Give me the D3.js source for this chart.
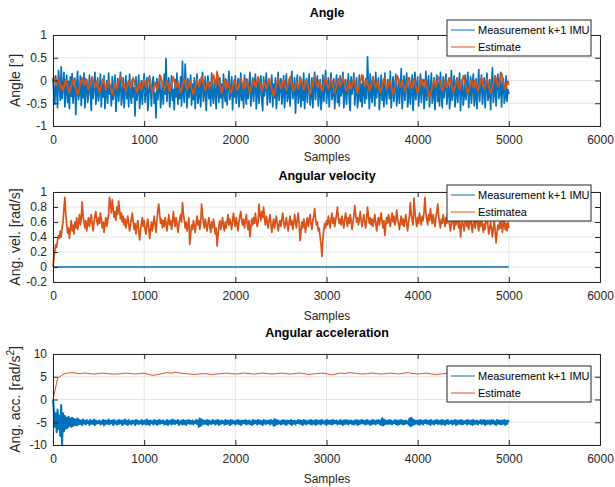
<!DOCTYPE html>
<html>
<head>
<meta charset="utf-8">
<script src="https://cdn.jsdelivr.net/npm/d3@7"></script>
<style>
  body { margin: 0; background: #fff; }
  svg { display: block; font-family: "Liberation Sans", Arial, sans-serif; }
  .tick text { font-size: 12px; fill: #262626; }
</style>
</head>
<body>
<svg id="fig" width="615" height="487"></svg>
<script>
// samples are spaced by a fixed step
const xTicks = [0, 1000, 2000, 3000, 4000, 5000, 6000];

const angleStep = 10;
const angleMeas = [
  0.05, -0.30, -0.52, 0.10, -0.18, -0.60, 0.22, -0.05, -0.44, 0.30,
  -0.40, -0.12, 0.18, -0.58, -0.25, 0.12, -0.48, -0.02, -0.62, 0.08,
  -0.35, 0.15, -0.50, -0.20, 0.05, -0.75, -0.10, 0.20, -0.42, -0.28,
  0.10, -0.55, -0.05, -0.38, 0.16, -0.60, -0.15, 0.02, -0.48, -0.30,
  0.12, -0.22, -0.66, 0.04, -0.40, -0.10, 0.18, -0.52, -0.32, 0.06,
  -0.45, -0.18, 0.14, -0.58, -0.08, -0.36, 0.10, -0.62, -0.24, 0.00,
  -0.50, 0.16, -0.30, -0.12, -0.56, 0.08, -0.42, -0.20, 0.12, -0.68,
  -0.26, 0.04, -0.46, -0.14, 0.18, -0.54, -0.34, 0.06, -0.60, -0.22,
  0.10, -0.40, -0.06, -0.58, 0.14, -0.28, -0.50, 0.02, -0.36, -0.16,
  -0.78, 0.08, -0.44, -0.20, 0.12, -0.62, -0.30, 0.00, -0.52, -0.12,
  0.15, -0.48, -0.24, 0.06, -0.66, -0.38, 0.10, -0.16, -0.56, -0.04,
  0.08, -0.50, -0.28, -0.82, 0.04, -0.42, -0.18, 0.12, -0.60, -0.34,
  -0.06, -0.52, 0.14, -0.30, 0.48, -0.46, -0.12, 0.06, -0.58, -0.26,
  0.10, -0.44, -0.20, -0.64, 0.02, -0.36, 0.16, -0.52, -0.10, -0.40,
  0.08, -0.56, 0.42, -0.30, -0.48, 0.36, -0.14, -0.60, 0.04, -0.38,
  -0.22, 0.12, -0.54, -0.08, -0.42, 0.06, -0.62, -0.18, 0.14, -0.50,
  -0.32, 0.02, -0.58, -0.12, 0.18, -0.46, -0.26, 0.08, -0.66, -0.20,
  0.10, -0.40, -0.04, -0.56, 0.16, -0.34, -0.50, 0.04, -0.28, -0.62,
  0.12, -0.18, -0.48, 0.06, -0.38, -0.08, -0.60, 0.14, -0.30, -0.46,
  0.02, -0.54, -0.16, 0.20, -0.42, -0.26, 0.08, -0.64, -0.12, -0.36,
  0.10, -0.50, -0.22, 0.04, -0.58, -0.32, 0.16, -0.44, -0.06, -0.60,
  0.12, -0.28, -0.52, 0.02, -0.40, -0.14, 0.18, -0.56, -0.24, 0.06,
  -0.46, -0.10, 0.14, -0.62, -0.30, 0.04, -0.50, -0.18, 0.10, -0.42,
  -0.66, 0.08, -0.34, -0.12, 0.16, -0.54, -0.24, 0.00, -0.48, -0.20,
  0.12, -0.58, -0.08, -0.38, 0.06, -0.62, -0.28, 0.18, -0.44, -0.14,
  0.04, -0.52, -0.30, 0.10, -0.60, -0.18, 0.14, -0.46, -0.36, 0.02,
  -0.56, -0.10, 0.20, -0.40, -0.26, 0.06, -0.72, -0.16, 0.12, -0.50,
  -0.32, 0.08, -0.58, -0.06, -0.44, 0.16, -0.62, -0.22, 0.04, -0.48,
  -0.12, 0.14, -0.54, -0.34, 0.06, -0.60, -0.20, 0.18, -0.42, -0.08,
  0.10, -0.56, -0.28, 0.02, -0.64, -0.36, 0.12, -0.46, -0.14, 0.22,
  -0.50, -0.24, 0.06, -0.58, -0.10, 0.16, -0.42, -0.30, 0.04, -0.62,
  -0.18, 0.12, -0.48, -0.06, -0.56, 0.10, -0.34, -0.22, 0.18, -0.60,
  -0.28, 0.02, -0.52, -0.14, 0.14, -0.44, -0.66, 0.08, -0.30, -0.10,
  0.16, -0.54, -0.20, 0.06, -0.60, -0.36, 0.12, -0.46, -0.08, -0.58,
  0.10, -0.26, -0.50, 0.04, -0.40, 0.52, -0.16, -0.62, 0.14, -0.32,
  -0.48, 0.08, -0.22, -0.56, 0.18, -0.38, -0.10, 0.06, -0.64, -0.26,
  0.12, -0.44, -0.04, -0.58, 0.16, -0.30, -0.52, 0.02, -0.18, -0.40,
  0.20, -0.60, -0.24, 0.08, -0.46, -0.12, 0.14, -0.56, -0.34, 0.04,
  -0.50, -0.16, 0.26, -0.62, -0.28, 0.10, -0.44, -0.06, 0.16, -0.58,
  -0.36, 0.06, -0.52, -0.20, 0.12, -0.66, -0.30, 0.18, -0.42, -0.10,
  0.08, -0.56, -0.26, 0.14, -0.48, -0.14, 0.02, -0.62, -0.34, 0.20,
  -0.44, -0.08, 0.10, -0.58, -0.22, 0.16, -0.50, -0.32, 0.06, -0.64,
  -0.18, 0.12, -0.46, -0.04, -0.56, 0.18, -0.28, -0.60, 0.08, -0.38,
  -0.12, 0.14, -0.52, -0.24, 0.04, -0.62, -0.36, 0.22, -0.44, -0.16,
  0.10, -0.58, -0.30, 0.06, -0.48, -0.10, 0.16, -0.66, -0.20, 0.02,
  -0.54, -0.34, 0.12, -0.42, -0.06, 0.18, -0.60, -0.26, 0.08, -0.50,
  -0.14, 0.14, -0.56, -0.38, 0.04, -0.62, -0.22, 0.24, -0.46, -0.10,
  0.12, -0.52, -0.28, 0.06, -0.60, -0.18, 0.16, -0.44, -0.32, 0.02,
  -0.64, -0.12, 0.28, -0.48, -0.24, 0.10, -0.56, -0.06, 0.14, -0.40,
  -0.30, 0.18, -0.58, -0.16, 0.04, -0.50, -0.36, 0.10, -0.46, -0.20,
  -0.30
];
const angleEst = [
  0.00, 0.08, 0.02, -0.06, -0.12, -0.04, 0.04, -0.02, -0.10, -0.18,
  -0.12, -0.22, -0.14, -0.06, 0.02, -0.04, -0.12, -0.20, -0.28, -0.20,
  -0.12, -0.04, 0.04, -0.02, -0.10, -0.18, -0.26, -0.32, -0.24, -0.16,
  -0.08, 0.00, 0.06, -0.02, -0.10, -0.04, 0.04, -0.04, -0.12, -0.20,
  -0.14, -0.06, 0.02, 0.08, 0.00, -0.08, -0.16, -0.10, -0.02, -0.10,
  -0.18, -0.26, -0.18, -0.10, -0.02, 0.04, -0.04, -0.12, -0.20, -0.14,
  -0.06, 0.02, -0.06, -0.14, -0.22, -0.30, -0.22, -0.14, -0.06, -0.12,
  -0.20, -0.12, -0.04, 0.04, 0.10, 0.02, -0.06, -0.14, -0.08, -0.16,
  -0.24, -0.16, -0.08, 0.00, -0.08, -0.16, -0.10, -0.02, 0.06, -0.02,
  -0.10, -0.18, -0.26, -0.18, -0.10, -0.04, -0.12, -0.20, -0.14, -0.06,
  0.02, -0.06, -0.14, -0.08, 0.00, 0.06, -0.02, -0.10, -0.18, -0.26,
  -0.20, -0.12, -0.04, -0.12, -0.20, -0.14, -0.06, 0.02, 0.10, 0.02,
  -0.06, -0.14, -0.22, -0.14, -0.06, 0.00, -0.08, -0.16, -0.24, -0.16,
  -0.08, 0.00, 0.08, 0.00, -0.08, -0.16, -0.10, -0.02, -0.10, -0.18,
  -0.26, -0.20, -0.12, -0.04, 0.04, -0.04, -0.12, -0.20, -0.14, -0.06,
  0.00, -0.08, -0.16, -0.24, -0.30, -0.22, -0.14, -0.06, 0.02, -0.06,
  -0.14, -0.08, 0.00, 0.08, 0.02, -0.06, -0.14, -0.22, -0.16, -0.08,
  -0.02, -0.10, -0.18, -0.12, -0.04, 0.04, 0.12, 0.04, -0.04, -0.12,
  0.20, 0.08, -0.02, -0.10, -0.18, -0.28, -0.20, -0.12, -0.04, 0.04,
  -0.18, -0.12, -0.04, -0.12, -0.20, -0.28, -0.22, -0.14, -0.06, 0.02,
  -0.06, -0.14, -0.22, -0.16, -0.08, 0.00, 0.06, -0.02, -0.10, -0.18,
  -0.12, -0.04, 0.04, -0.04, -0.12, -0.20, -0.28, -0.20, -0.12, -0.04,
  0.02, -0.06, -0.14, -0.08, 0.00, 0.08, 0.00, -0.08, -0.16, -0.24,
  -0.18, -0.10, -0.02, -0.10, -0.18, -0.12, -0.04, 0.04, -0.04, -0.12,
  -0.20, -0.28, -0.34, -0.26, -0.18, -0.10, -0.02, 0.06, -0.02, -0.10,
  -0.18, -0.12, -0.04, 0.02, -0.06, -0.14, -0.22, -0.16, -0.08, 0.00,
  0.08, 0.00, -0.08, -0.16, -0.24, -0.18, -0.10, -0.02, -0.10, -0.18,
  -0.12, -0.04, 0.04, -0.04, -0.12, -0.20, -0.14, -0.06, 0.02, -0.06,
  -0.14, -0.22, -0.30, -0.22, -0.14, -0.06, 0.02, 0.10, 0.02, -0.06,
  -0.14, -0.08, 0.00, -0.08, -0.16, -0.24, -0.18, -0.10, -0.02, 0.06,
  -0.02, -0.10, -0.18, -0.12, -0.04, 0.04, -0.04, -0.12, -0.20, -0.28,
  -0.20, -0.12, -0.04, 0.04, -0.04, -0.12, -0.06, 0.02, 0.08, 0.00,
  -0.08, -0.16, -0.24, -0.18, -0.10, -0.02, -0.10, -0.18, -0.12, -0.04,
  0.04, -0.04, -0.12, -0.20, -0.28, -0.20, -0.12, -0.04, 0.04, 0.12,
  0.04, -0.04, -0.12, -0.06, 0.02, -0.06, -0.14, -0.22, -0.16, -0.08,
  0.00, 0.08, 0.00, -0.08, -0.16, -0.10, -0.02, -0.10, -0.18, -0.26,
  -0.20, -0.12, -0.04, 0.04, -0.04, -0.12, -0.20, -0.14, -0.06, 0.02,
  -0.06, -0.14, -0.22, -0.30, -0.22, -0.14, -0.06, 0.02, 0.10, 0.02,
  -0.06, -0.14, -0.08, 0.00, -0.08, -0.16, -0.24, -0.16, -0.08, 0.00,
  0.06, -0.02, -0.10, -0.18, -0.12, -0.04, 0.04, -0.04, -0.12, -0.20,
  -0.28, -0.20, -0.12, -0.04, 0.04, -0.04, -0.12, -0.06, 0.02, -0.06,
  -0.14, -0.22, -0.30, -0.38, -0.30, -0.22, -0.14, -0.06, 0.02, -0.06,
  -0.14, -0.08, 0.00, 0.08, 0.00, -0.08, -0.16, -0.24, -0.16, -0.08,
  0.00, -0.08, -0.16, -0.10, -0.02, 0.06, -0.02, -0.10, -0.18, -0.26,
  -0.20, -0.12, -0.04, 0.04, -0.04, -0.12, -0.20, -0.14, -0.06, 0.02,
  0.10, 0.02, -0.06, -0.14, -0.22, -0.30, -0.22, -0.14, -0.06, 0.02,
  -0.06, -0.14, -0.08, 0.00, -0.08, -0.16, -0.24, -0.18, -0.10, -0.02,
  0.06, -0.02, -0.10, -0.18, -0.12, -0.04, 0.04, -0.04, -0.12, -0.20,
  -0.28, -0.22, -0.14, -0.06, 0.02, 0.10, 0.02, -0.06, -0.14, -0.08,
  0.00, 0.08, 0.16, 0.06, -0.04, -0.12, -0.20, -0.14, -0.06, -0.02,
  -0.10
];

const velMeasStep = 500;
const velMeas = [0, 0, 0, 0, 0, 0, 0, 0, 0, 0, 0];
const velStep = 10;
const velEst = [
  0.00, 0.12, 0.22, 0.30, 0.26, 0.36, 0.42, 0.38, 0.48, 0.40,
  0.52, 0.60, 0.78, 0.93, 0.70, 0.58, 0.45, 0.52, 0.38, 0.50,
  0.62, 0.48, 0.56, 0.44, 0.60, 0.52, 0.66, 0.50, 0.58, 0.70,
  0.56, 0.64, 0.87, 0.68, 0.60, 0.52, 0.62, 0.48, 0.58, 0.66,
  0.54, 0.62, 0.70, 0.58, 0.48, 0.60, 0.68, 0.74, 0.62, 0.56,
  0.66, 0.58, 0.72, 0.64, 0.52, 0.60, 0.46, 0.58, 0.66, 0.54,
  0.62, 0.70, 0.93, 0.84, 0.72, 0.90, 0.78, 0.66, 0.74, 0.62,
  0.80, 0.70, 0.88, 0.76, 0.64, 0.72, 0.60, 0.68, 0.56, 0.64,
  0.52, 0.60, 0.68, 0.58, 0.48, 0.56, 0.64, 0.72, 0.60, 0.50,
  0.58, 0.44, 0.54, 0.62, 0.50, 0.36, 0.48, 0.58, 0.66, 0.54,
  0.62, 0.50, 0.44, 0.56, 0.64, 0.52, 0.38, 0.50, 0.60, 0.48,
  0.58, 0.68, 0.56, 0.46, 0.62, 0.76, 0.84, 0.70, 0.58, 0.64,
  0.52, 0.62, 0.54, 0.66, 0.58, 0.48, 0.60, 0.70, 0.56, 0.62,
  0.50, 0.58, 0.74, 0.62, 0.54, 0.66, 0.58, 0.46, 0.56, 0.64,
  0.70, 0.60, 0.86, 0.72, 0.62, 0.52, 0.60, 0.48, 0.56, 0.66,
  0.30, 0.44, 0.56, 0.50, 0.62, 0.54, 0.46, 0.58, 0.68, 0.56,
  0.62, 0.50, 0.58, 0.84, 0.70, 0.60, 0.52, 0.64, 0.56, 0.48,
  0.58, 0.66, 0.54, 0.46, 0.60, 0.52, 0.64, 0.56, 0.44, 0.52,
  0.28, 0.42, 0.54, 0.62, 0.50, 0.58, 0.66, 0.54, 0.48, 0.60,
  0.52, 0.62, 0.70, 0.56, 0.64, 0.58, 0.50, 0.62, 0.72, 0.60,
  0.54, 0.66, 0.58, 0.48, 0.60, 0.68, 0.74, 0.62, 0.56, 0.64,
  0.52, 0.60, 0.70, 0.58, 0.50, 0.62, 0.40, 0.52, 0.64, 0.56,
  0.66, 0.58, 0.72, 0.62, 0.54, 0.60, 0.84, 0.70, 0.62, 0.74,
  0.66, 0.80, 0.64, 0.56, 0.68, 0.60, 0.52, 0.62, 0.70, 0.58,
  0.46, 0.56, 0.64, 0.52, 0.60, 0.68, 0.58, 0.48, 0.56, 0.62,
  0.54, 0.64, 0.72, 0.60, 0.52, 0.58, 0.66, 0.56, 0.48, 0.60,
  0.68, 0.56, 0.62, 0.50, 0.58, 0.70, 0.60, 0.52, 0.64, 0.72,
  0.58, 0.35, 0.48, 0.60, 0.52, 0.64, 0.56, 0.46, 0.58, 0.66,
  0.54, 0.62, 0.70, 0.58, 0.50, 0.62, 0.68, 0.78, 0.64, 0.56,
  0.60, 0.48, 0.52, 0.40, 0.30, 0.14, 0.36, 0.50, 0.58, 0.52,
  0.62, 0.56, 0.68, 0.60, 0.52, 0.64, 0.72, 0.58, 0.66, 0.54,
  0.62, 0.70, 0.80, 0.66, 0.58, 0.64, 0.56, 0.68, 0.60, 0.52,
  0.64, 0.72, 0.62, 0.54, 0.66, 0.58, 0.70, 0.62, 0.50, 0.60,
  0.68, 0.82, 0.70, 0.60, 0.66, 0.56, 0.64, 0.74, 0.62, 0.54,
  0.62, 0.70, 0.60, 0.52, 0.64, 0.80, 0.68, 0.58, 0.66, 0.56,
  0.64, 0.54, 0.62, 0.70, 0.58, 0.48, 0.60, 0.66, 0.56, 0.64,
  0.72, 0.60, 0.52, 0.62, 0.42, 0.56, 0.66, 0.58, 0.70, 0.62,
  0.54, 0.64, 0.72, 0.60, 0.68, 0.56, 0.62, 0.76, 0.64, 0.58,
  0.50, 0.60, 0.68, 0.56, 0.64, 0.54, 0.62, 0.70, 0.58, 0.48,
  0.60, 0.68, 0.86, 0.70, 0.62, 0.56, 0.92, 0.74, 0.62, 0.54,
  0.66, 0.58, 0.72, 0.64, 0.56, 0.68, 0.62, 0.74, 0.93, 0.72,
  0.64, 0.56, 0.70, 0.62, 0.78, 0.66, 0.58, 0.70, 0.62, 0.54,
  0.66, 0.74, 0.84, 0.68, 0.60, 0.52, 0.64, 0.58, 0.70, 0.62,
  0.54, 0.66, 0.58, 0.72, 0.64, 0.56, 0.48, 0.60, 0.68, 0.58,
  0.50, 0.62, 0.56, 0.74, 0.60, 0.52, 0.64, 0.40, 0.54, 0.62,
  0.56, 0.48, 0.60, 0.66, 0.54, 0.62, 0.50, 0.58, 0.68, 0.56,
  0.46, 0.58, 0.64, 0.52, 0.60, 0.70, 0.56, 0.48, 0.62, 0.54,
  0.64, 0.56, 0.46, 0.58, 0.50, 0.62, 0.70, 0.56, 0.44, 0.52,
  0.60, 0.50, 0.40, 0.52, 0.62, 0.48, 0.32, 0.46, 0.56, 0.50,
  0.60, 0.52, 0.62, 0.46, 0.56, 0.64, 0.50, 0.58, 0.48, 0.60,
  0.52
];

const accMeasStep = 10;
const accMeas = [
  0.0, -2.5, -6.0, -3.0, -7.2, -2.2, -6.5, -3.5, -8.0, -1.2,
  -10.0, -3.0, -7.0, -3.6, -6.4, -4.0, -6.2, -3.8, -5.8, -4.2,
  -6.0, -4.0, -5.8, -4.3, -5.6, -4.4, -5.7, -4.2, -5.5, -4.5,
  -5.4, -4.6, -5.6, -4.4, -5.3, -4.7, -5.5, -4.5, -5.2, -4.8,
  -5.6, -4.5, -5.3, -4.7, -5.4, -4.4, -5.6, -4.6, -5.3, -4.8,
  -5.2, -4.6, -5.5, -4.8, -5.3, -4.5, -5.7, -4.6, -5.4, -4.7,
  -5.3, -4.4, -5.5, -4.7, -5.2, -4.6, -5.6, -4.5, -5.3, -4.8,
  -5.5, -4.6, -5.4, -4.5, -5.2, -4.7, -5.6, -4.6, -5.3, -4.4,
  -5.4, -4.7, -5.6, -4.5, -5.3, -4.8, -5.5, -4.6, -5.2, -4.7,
  -5.6, -4.5, -5.3, -4.6, -5.4, -4.8, -5.2, -4.5, -5.5, -4.7,
  -5.3, -4.6, -5.5, -4.4, -5.4, -4.7, -5.6, -4.6, -5.2, -4.8,
  -5.5, -4.5, -5.3, -4.7, -5.6, -4.6, -5.4, -4.5, -5.3, -4.7,
  -5.2, -4.6, -5.5, -4.8, -5.4, -4.5, -5.6, -4.7, -5.3, -4.6,
  -5.5, -4.4, -5.3, -4.6, -5.4, -4.7, -5.2, -4.5, -5.6, -4.8,
  -5.3, -4.6, -5.5, -4.5, -5.4, -4.7, -5.6, -4.6, -5.2, -4.5,
  -5.4, -4.7, -5.3, -4.6, -5.5, -4.8, -5.2, -4.5, -5.4, -4.6,
  -6.0, -4.2, -5.8, -4.4, -5.5, -4.6, -5.3, -4.7, -5.4, -4.5,
  -5.6, -4.6, -5.3, -4.8, -5.4, -4.5, -5.2, -4.7, -5.5, -4.6,
  -5.3, -4.5, -5.6, -4.7, -5.4, -4.6, -5.2, -4.8, -5.5, -4.5,
  -5.4, -4.6, -5.3, -4.7, -5.6, -4.5, -5.4, -4.6, -5.2, -4.8,
  -5.5, -4.6, -5.3, -4.5, -5.4, -4.7, -5.6, -4.6, -5.3, -4.7,
  -5.2, -4.5, -5.5, -4.7, -5.3, -4.6, -5.4, -4.8, -5.6, -4.5,
  -5.4, -4.6, -5.2, -4.7, -5.5, -4.5, -5.3, -4.6, -5.4, -4.8,
  -5.6, -4.5, -5.3, -4.6, -5.4, -4.7, -5.2, -4.6, -5.5, -4.5,
  -5.3, -4.7, -5.8, -4.3, -5.6, -4.5, -5.4, -4.6, -5.3, -4.8,
  -5.5, -4.6, -5.3, -4.5, -5.4, -4.7, -5.6, -4.6, -5.2, -4.7,
  -5.4, -4.5, -5.6, -4.7, -5.3, -4.6, -5.5, -4.8, -5.2, -4.5,
  -5.3, -4.6, -5.4, -4.7, -5.6, -4.5, -5.3, -4.6, -5.5, -4.8,
  -5.2, -4.6, -5.4, -4.5, -5.5, -4.7, -5.3, -4.6, -5.6, -4.5,
  -5.4, -4.7, -5.3, -4.6, -5.5, -4.5, -5.2, -4.8, -5.4, -4.6,
  -5.6, -4.5, -5.3, -4.7, -5.4, -4.6, -5.5, -4.5, -5.3, -4.7,
  -5.2, -4.6, -5.5, -4.8, -5.3, -4.5, -5.4, -4.7, -5.6, -4.6,
  -5.4, -4.5, -5.3, -4.6, -5.5, -4.7, -5.2, -4.6, -5.4, -4.8,
  -5.5, -4.6, -5.3, -4.5, -5.6, -4.7, -5.4, -4.6, -5.3, -4.5,
  -5.2, -4.7, -5.5, -4.6, -5.4, -4.5, -5.3, -4.8, -5.6, -4.6,
  -5.4, -4.5, -5.3, -4.7, -5.5, -4.6, -5.2, -4.5, -5.4, -4.7,
  -5.6, -4.1, -5.7, -4.4, -5.5, -4.6, -5.3, -4.7, -5.4, -4.5,
  -5.3, -4.6, -5.5, -4.8, -5.2, -4.5, -5.4, -4.6, -5.6, -4.7,
  -5.4, -4.5, -5.3, -4.6, -5.5, -4.7, -5.4, -4.6, -5.2, -4.8,
  -5.5, -4.2, -5.9, -4.0, -5.7, -4.4, -5.5, -4.6, -5.3, -4.7,
  -5.4, -4.6, -5.6, -4.5, -5.3, -4.7, -5.5, -4.6, -5.2, -4.5,
  -5.3, -4.7, -5.4, -4.6, -5.6, -4.5, -5.3, -4.8, -5.5, -4.6,
  -5.2, -4.5, -5.4, -4.7, -5.3, -4.6, -5.5, -4.5, -5.4, -4.7,
  -5.6, -4.6, -5.3, -4.5, -5.4, -4.8, -5.2, -4.6, -5.5, -4.7,
  -5.3, -4.5, -5.6, -4.6, -5.4, -4.7, -5.3, -4.5, -5.5, -4.6,
  -5.4, -4.8, -5.2, -4.6, -5.5, -4.5, -5.3, -4.7, -5.4, -4.6,
  -5.6, -4.5, -5.4, -4.7, -5.3, -4.6, -5.5, -4.8, -5.2, -4.5,
  -5.4, -4.6, -5.3, -4.5, -5.6, -4.7, -5.4, -4.6, -5.3, -4.7,
  -5.5, -4.5, -5.2, -4.6, -5.4, -4.8, -5.6, -4.5, -5.3, -4.6,
  -5.4, -4.7, -5.5, -4.6, -5.3, -4.5, -5.6, -4.7, -5.4, -4.6,
  -5.0
];
const accEstStep = 50;
const accEst = [
  0.0, 4.6, 5.4, 5.8, 5.9, 5.8, 5.7, 5.8, 5.7, 5.6,
  5.7, 5.8, 5.7, 5.6, 5.6, 5.7, 5.8, 5.7, 5.6, 5.7,
  5.8, 5.5, 5.3, 5.5, 5.7, 5.9, 5.8, 6.0, 5.8, 5.7,
  5.6, 5.5, 5.6, 5.7, 5.6, 5.5, 5.6, 5.7, 5.8, 5.7,
  5.6, 5.7, 5.8, 5.7, 5.6, 5.7, 5.8, 5.7, 5.6, 5.7,
  5.8, 5.7, 5.6, 5.7, 5.8, 5.7, 5.5, 5.6, 5.7, 5.8,
  5.7, 5.4, 5.6, 5.8, 5.7, 5.9, 5.8, 5.7, 5.6, 5.7,
  5.8, 5.7, 5.6, 5.7, 5.8, 5.7, 5.6, 5.8, 5.9, 5.7,
  5.6, 5.7, 5.8, 5.6, 5.5, 5.6, 5.7, 5.8, 5.9, 5.7,
  5.6, 5.7, 5.8, 5.7, 5.6, 5.7, 5.8, 5.7, 5.6, 5.7, 5.6
];

const blue = '#0072BD';
const orange = '#D95319';
const svg = d3.select('#fig');
const x = d3.scaleLinear().domain([0, 6000]).range([53, 600]);

function toPoints(values, step) {
  return values.map((v, i) => [i * step, v]);
}

function panel(cfg) {
  const y = d3.scaleLinear().domain(cfg.domain).range([cfg.bottom, cfg.top]);
  const g = svg.append('g');

  // grid
  g.append('g').selectAll('line').data(xTicks).join('line')
    .attr('x1', d => x(d)).attr('x2', d => x(d))
    .attr('y1', cfg.top).attr('y2', cfg.bottom)
    .attr('stroke', '#e6e6e6');
  g.append('g').selectAll('line').data(cfg.yTicks).join('line')
    .attr('x1', 53).attr('x2', 600)
    .attr('y1', d => y(d)).attr('y2', d => y(d))
    .attr('stroke', '#e6e6e6');

  // lines
  const line = d3.line().x(d => x(d[0])).y(d => y(d[1]));
  cfg.series.forEach(s => {
    g.append('path')
      .datum(toPoints(s.values, s.step))
      .attr('fill', 'none')
      .attr('stroke', s.color)
      .attr('stroke-width', s.width || 1)
      .attr('stroke-linejoin', 'round')
      .attr('d', line);
  });

  // axes, ticks pointing inward like matlab
  g.append('g').attr('transform', `translate(0,${cfg.bottom})`)
    .call(d3.axisBottom(x).tickValues(xTicks).tickSize(-5).tickPadding(9).tickFormat(d3.format('d')));
  g.append('g').attr('transform', `translate(0,${cfg.top})`)
    .call(d3.axisTop(x).tickValues(xTicks).tickSize(-5).tickFormat(''));
  g.append('g').attr('transform', 'translate(53,0)')
    .call(d3.axisLeft(y).tickValues(cfg.yTicks).tickSize(-5).tickPadding(6).tickFormat(d => String(d)));
  g.append('g').attr('transform', 'translate(600,0)')
    .call(d3.axisRight(y).tickValues(cfg.yTicks).tickSize(-5).tickFormat(''));
  g.selectAll('.domain').attr('stroke', '#262626');
  g.selectAll('.tick line').attr('stroke', '#262626');

  // titles
  g.append('text').attr('x', 327).attr('y', cfg.titleY)
    .attr('text-anchor', 'middle').attr('font-size', 12.5).attr('font-weight', 'bold')
    .attr('fill', '#000').text(cfg.title);
  g.append('text').attr('x', 327).attr('y', cfg.bottom + cfg.xlabelOff)
    .attr('text-anchor', 'middle').attr('font-size', 12).attr('fill', '#262626').text('Samples');
  const yl = g.append('text')
    .attr('transform', `translate(20,${(cfg.top + cfg.bottom) / 2}) rotate(-90)`)
    .attr('text-anchor', 'middle').attr('font-size', 14).attr('fill', '#262626');
  yl.text(cfg.ylabel);
  if (cfg.sup) {
    yl.append('tspan').attr('dy', -6).attr('font-size', 10).text(cfg.sup);
    yl.append('tspan').attr('dy', 6).text(']');
  }

  // legend
  const lg = g.append('g');
  lg.append('rect').attr('x', 447).attr('y', cfg.legendTop).attr('width', 144).attr('height', 36)
    .attr('fill', '#fff').attr('stroke', '#262626');
  cfg.series.forEach((s, i) => {
    const ly = cfg.legendTop + 10 + i * 17;
    lg.append('line').attr('x1', 451).attr('x2', 475).attr('y1', ly).attr('y2', ly)
      .attr('stroke', s.color).attr('stroke-width', 1);
    lg.append('text').attr('x', 478).attr('y', ly + 4).attr('font-size', 11)
      .attr('fill', '#000').text(s.name);
  });
}

panel({
  title: 'Angle', ylabel: 'Angle [°]', top: 35, bottom: 126, titleY: 17, xlabelOff: 35,
  domain: [-1, 1], yTicks: [-1, -0.5, 0, 0.5, 1], legendTop: 20,
  series: [
    { name: 'Measurement k+1 IMU', values: angleMeas, step: angleStep, color: blue, width: 1.7 },
    { name: 'Estimate', values: angleEst, step: angleStep, color: orange, width: 1.8 }
  ]
});
panel({
  title: 'Angular velocity', ylabel: 'Ang. vel. [rad/s]', top: 192, bottom: 282, titleY: 180, xlabelOff: 38,
  domain: [-0.2, 1], yTicks: [-0.2, 0, 0.2, 0.4, 0.6, 0.8, 1], legendTop: 185,
  series: [
    { name: 'Measurement k+1 IMU', values: velMeas, step: velMeasStep, color: blue, width: 1.3 },
    { name: 'Estimatea', values: velEst, step: velStep, color: orange, width: 1.7 }
  ]
});
panel({
  title: 'Angular acceleration', ylabel: 'Ang. acc. [rad/s', sup: '2', top: 354, bottom: 445, titleY: 337, xlabelOff: 38,
  domain: [-10, 10], yTicks: [-10, -5, 0, 5, 10], legendTop: 366,
  series: [
    { name: 'Measurement k+1 IMU', values: accMeas, step: accMeasStep, color: blue, width: 2 },
    { name: 'Estimate', values: accEst, step: accEstStep, color: orange }
  ]
});
</script>
</body>
</html>
